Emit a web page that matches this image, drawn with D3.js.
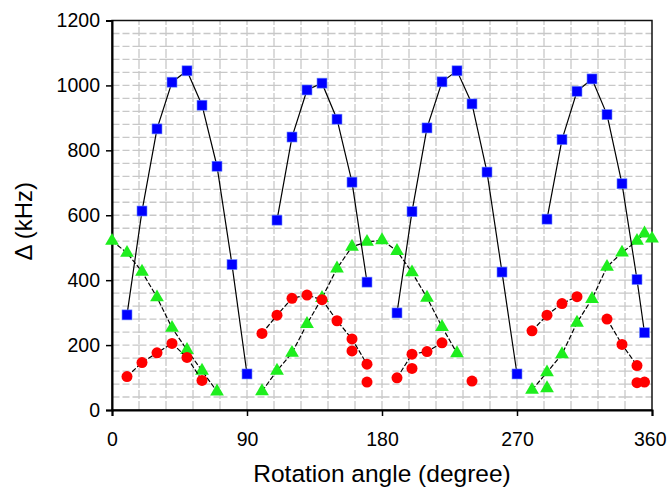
<!DOCTYPE html>
<html>
  <head>
    <meta charset="utf-8" />
    <title>Rotation angle dependence</title>
    <script src="https://d3js.org/d3.v7.min.js"></script>
    <style>
      body { margin: 0; background: #fff; }
      svg { display: block; }
      text { font-family: "Liberation Sans", Arial, sans-serif; fill: #000; }
    </style>
  </head>
  <body>
    <svg id="chart"></svg>
    <script>
      // blue squares (solid line), one array pair per connected piece
      var blueAngle1 = [10, 20, 30, 40, 50, 60, 70, 80, 90];
      var blueVal1 = [293, 613, 866, 1010, 1045, 939, 751, 448, 111];
      var blueAngle2 = [110, 120, 130, 140, 150, 160, 170];
      var blueVal2 = [585, 841, 986, 1007, 896, 702, 394];
      var blueAngle3 = [190, 200, 210, 220, 230, 240, 250, 260, 270];
      var blueVal3 = [299, 611, 869, 1011, 1045, 943, 733, 425, 111];
      var blueAngle4 = [290, 300, 310, 320, 330, 340, 350, 355];
      var blueVal4 = [588, 833, 982, 1020, 910, 697, 402, 238];

      // green triangles (dashed line)
      var greenAngle1 = [0, 10, 20, 30, 40, 50, 60, 70];
      var greenVal1 = [521, 484, 426, 347, 253, 185, 121, 57];
      var greenAngle2 = [100, 110, 120, 130, 140, 150, 160, 170, 180, 190, 200, 210, 220, 230];
      var greenVal2 = [58, 121, 176, 265, 345, 436, 503, 518, 523, 490, 424, 346, 256, 175];
      var greenAngle3 = [280, 290, 300, 310, 320, 330, 340, 350, 355];
      var greenVal3 = [62, 116, 172, 269, 342, 441, 485, 521, 544];
      var greenAngleLoose = [290, 360];
      var greenValLoose = [67, 528];

      // red circles (dashed line)
      var redAngle1 = [10, 20, 30, 40, 50, 60];
      var redVal1 = [103, 146, 176, 205, 162, 91];
      var redAngle2 = [100, 110, 120, 130, 140, 150, 160, 170];
      var redVal2 = [236, 292, 344, 354, 340, 275, 219, 141];
      var redAngle3 = [190, 200, 210, 220];
      var redVal3 = [99, 172, 180, 207];
      var redAngle4 = [280, 290, 300, 310];
      var redVal4 = [244, 292, 328, 349];
      var redAngle5 = [330, 340, 350];
      var redVal5 = [280, 202, 137];
      var redAngleLoose = [160, 170, 200, 240, 350, 355];
      var redValLoose = [182, 86, 128, 89, 84, 86];

      var xTicks = [0, 90, 180, 270, 360];
      var yTicks = [0, 200, 400, 600, 800, 1000, 1200];

      function pairs(a, v) {
        return a.map(function (d, i) {
          return { angle: d, val: v[i] };
        });
      }

      var series = [
        {
          name: "green",
          dash: "5,2",
          pieces: [
            pairs(greenAngle1, greenVal1),
            pairs(greenAngle2, greenVal2),
            pairs(greenAngle3, greenVal3)
          ],
          loose: pairs(greenAngleLoose, greenValLoose)
        },
        {
          name: "red",
          dash: "5,2",
          pieces: [
            pairs(redAngle1, redVal1),
            pairs(redAngle2, redVal2),
            pairs(redAngle3, redVal3),
            pairs(redAngle4, redVal4),
            pairs(redAngle5, redVal5)
          ],
          loose: pairs(redAngleLoose, redValLoose)
        },
        {
          name: "blue",
          dash: null,
          pieces: [
            pairs(blueAngle1, blueVal1),
            pairs(blueAngle2, blueVal2),
            pairs(blueAngle3, blueVal3),
            pairs(blueAngle4, blueVal4)
          ],
          loose: []
        }
      ];

      var width = 667,
        height = 489;
      var margin = { top: 20.5, right: 15, bottom: 79, left: 112 };
      var w = width - margin.left - margin.right;
      var h = height - margin.top - margin.bottom;

      var svg = d3.select("#chart").attr("width", width).attr("height", height);
      var g = svg
        .append("g")
        .attr("transform", "translate(" + margin.left + "," + margin.top + ")");

      // scales
      var x = d3.scaleLinear().domain([0, 360]).range([0, w]);
      var y = d3.scaleLinear().domain([0, 1200]).range([h, 0]);

      // grid
      var vGrid = d3.range(18, 360, 18);
      var hGrid = d3.range(40, 1200, 40);
      g.append("g")
        .selectAll("line")
        .data(hGrid)
        .enter()
        .append("line")
        .attr("x1", 0)
        .attr("x2", w)
        .attr("y1", function (d) { return y(d); })
        .attr("y2", function (d) { return y(d); })
        .attr("stroke", "#c8c8c8")
        .attr("stroke-width", 1.3)
        .attr("stroke-dasharray", "14,3,7,3")
        .attr("stroke-dashoffset", 6.5);
      g.append("g")
        .selectAll("line")
        .data(vGrid)
        .enter()
        .append("line")
        .attr("x1", function (d) { return x(d); })
        .attr("x2", function (d) { return x(d); })
        .attr("y1", h)
        .attr("y2", 0)
        .attr("stroke", "#c8c8c8")
        .attr("stroke-width", 1.3)
        .attr("stroke-dasharray", "9,2");

      // frame
      g.append("rect")
        .attr("x", 0)
        .attr("y", 0)
        .attr("width", w)
        .attr("height", h)
        .attr("fill", "none")
        .attr("stroke", "#111")
        .attr("stroke-width", 1.5);

      // axes
      var yAxis = g
        .append("g")
        .call(
          d3.axisLeft(y).tickValues(yTicks).tickFormat(d3.format("d")).tickSize(6).tickPadding(6)
        );
      var xAxis = g
        .append("g")
        .attr("transform", "translate(0," + h + ")")
        .call(d3.axisBottom(x).tickValues(xTicks).tickSize(6).tickPadding(16));
      [xAxis, yAxis].forEach(function (a) {
        a.select(".domain").attr("stroke", "#000").attr("stroke-width", 2);
        a.selectAll(".tick line").attr("stroke", "#000").attr("stroke-width", 1.5);
        a.selectAll("text")
          .attr("font-size", 19.5)
          .attr("font-family", "Liberation Sans, Arial, sans-serif");
      });
      // last label sits against the right edge of the page
      xAxis.selectAll(".tick text")
        .filter(function (d) { return d === 360; })
        .attr("text-anchor", "end")
        .attr("x", width - margin.left - w - 1);

      // axis titles
      svg
        .append("text")
        .attr("x", margin.left + w / 2)
        .attr("y", 482)
        .attr("text-anchor", "middle")
        .attr("font-size", 24.5)
        .text("Rotation angle (degree)");
      svg
        .append("text")
        .attr("transform", "translate(31.5," + (margin.top + h / 2 + 6) + ") rotate(-90)")
        .attr("text-anchor", "middle")
        .attr("font-size", 24)
        .text("\u0394 (kHz)");

      var line = d3
        .line()
        .x(function (d) { return x(d.angle); })
        .y(function (d) { return y(d.val); });

      function drawMarkers(sel, pts, name) {
        if (name === "blue") {
          sel.selectAll("rect.m")
            .data(pts)
            .enter()
            .append("rect")
            .attr("class", "m")
            .attr("x", function (d) { return x(d.angle) - 5; })
            .attr("y", function (d) { return y(d.val) - 5; })
            .attr("width", 10)
            .attr("height", 10)
            .attr("fill", "#0000ff")
            .attr("stroke", "#6f8cff")
            .attr("stroke-width", 0.6);
        } else if (name === "red") {
          sel.selectAll("circle.m")
            .data(pts)
            .enter()
            .append("circle")
            .attr("class", "m")
            .attr("cx", function (d) { return x(d.angle); })
            .attr("cy", function (d) { return y(d.val); })
            .attr("r", 5.5)
            .attr("fill", "#ff0000");
        } else {
          sel.selectAll("path.m")
            .data(pts)
            .enter()
            .append("path")
            .attr("class", "m")
            .attr("d", d3.symbol().type(d3.symbolTriangle).size(82))
            .attr("transform", function (d) {
              return "translate(" + x(d.angle) + "," + y(d.val) + ")";
            })
            .attr("fill", "#1eee1e");
        }
      }

      series.forEach(function (s) {
        var sg = g.append("g");
        s.pieces.forEach(function (p) {
          sg.append("path")
            .datum(p)
            .attr("d", line)
            .attr("fill", "none")
            .attr("stroke", "#000")
            .attr("stroke-width", 1.2)
            .attr("stroke-dasharray", s.dash);
        });
        var all = [].concat.apply([], s.pieces).concat(s.loose);
        drawMarkers(sg.append("g"), all, s.name);
      });
    </script>
  </body>
</html>
